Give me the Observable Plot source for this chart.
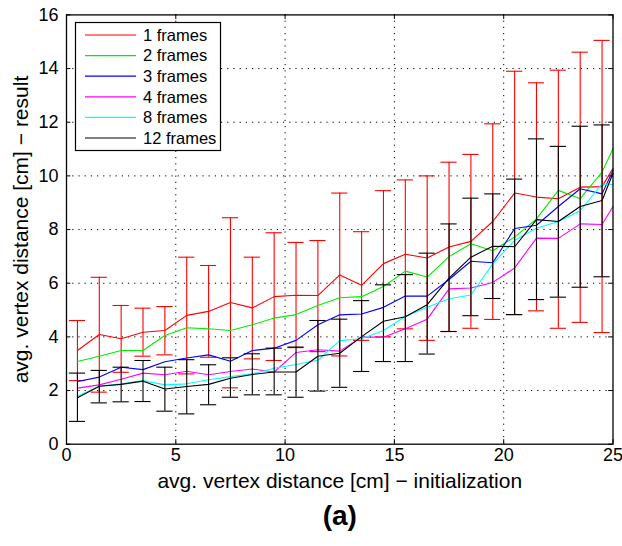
<!DOCTYPE html>
<html>
<head>
<meta charset="utf-8">
<script src="https://cdn.jsdelivr.net/npm/d3@7"></script>
<script src="https://cdn.jsdelivr.net/npm/@observablehq/plot@0.6"></script>
<style>
  html, body { margin: 0; padding: 0; background: #fff; }
  #chart { width: 622px; height: 546px; }
</style>
</head>
<body>
<div id="chart"></div>
<script>
// ---- data ----
const xs = [0.5, 1.5, 2.5, 3.5, 4.5, 5.5, 6.5, 7.5, 8.5, 9.5, 10.5, 11.5, 12.5,
            13.5, 14.5, 15.5, 16.5, 17.5, 18.5, 19.5, 20.5, 21.5, 22.5, 23.5, 24.5, 25];

const seriesNames = ["1 frames", "2 frames", "3 frames", "4 frames", "8 frames", "12 frames"];
const seriesColors = ["#ff0000", "#00ee00", "#0000ff", "#ff00ff", "#00ffff", "#000000"];

const frames1  = [3.49, 4.09, 3.93, 4.17, 4.24, 4.80, 4.95, 5.28, 5.08, 5.50, 5.55, 5.54, 6.31, 5.92, 6.73, 7.08, 6.94, 7.35, 7.56, 8.30, 9.36, 9.21, 9.15, 9.58, 9.60, 10.28];
const frames2  = [3.08, 3.28, 3.49, 3.49, 4.05, 4.34, 4.30, 4.24, 4.45, 4.70, 4.83, 5.17, 5.46, 5.50, 5.88, 6.45, 6.23, 6.99, 7.47, 7.21, 7.72, 8.40, 9.46, 9.15, 10.14, 11.02];
const frames3  = [2.34, 2.50, 2.87, 2.78, 3.07, 3.21, 3.33, 3.09, 3.49, 3.58, 3.87, 4.45, 4.82, 4.85, 5.10, 5.52, 5.52, 6.14, 6.82, 6.76, 8.04, 8.16, 8.86, 9.52, 9.33, 10.20];
const frames4  = [2.09, 2.21, 2.42, 2.65, 2.59, 2.72, 2.59, 2.71, 2.80, 2.69, 3.42, 3.52, 3.47, 3.99, 3.99, 4.30, 4.66, 5.79, 5.82, 6.03, 6.57, 7.68, 7.67, 8.21, 8.19, 8.86];
const frames8  = [1.79, 2.16, 2.25, 2.37, 2.21, 2.25, 2.40, 2.52, 2.62, 2.83, 2.97, 3.13, 3.86, 3.93, 4.24, 4.76, 5.10, 5.42, 5.56, 6.72, 7.60, 8.05, 8.30, 8.70, 9.70, 9.68];
const frames12 = [1.73, 2.16, 2.23, 2.35, 2.06, 2.15, 2.23, 2.46, 2.60, 2.69, 2.69, 3.28, 3.39, 4.01, 4.58, 4.75, 5.20, 6.19, 6.97, 7.38, 7.36, 8.37, 8.30, 8.86, 9.08, 10.10];

// error bars (upper / lower ends) for 1 frames and 12 frames, at xs[0..24]
const frames1Hi  = [4.61, 6.22, 5.17, 5.07, 5.13, 6.97, 6.66, 8.44, 6.97, 7.88, 7.52, 7.59, 9.36, 7.92, 9.45, 9.85, 10.00, 10.51, 10.80, 11.94, 13.90, 13.47, 13.94, 14.61, 15.05];
const frames1Lo  = [2.37, 1.94, 2.68, 3.28, 3.33, 2.62, 3.24, 2.10, 3.18, 3.12, 3.60, 3.45, 3.29, 3.87, 4.00, 4.30, 3.87, 4.20, 4.32, 4.65, 4.83, 4.97, 4.32, 4.54, 4.16];
const frames12Hi = [2.65, 2.75, 2.87, 3.12, 2.87, 3.15, 2.96, 3.22, 3.37, 3.58, 3.62, 4.61, 4.66, 5.35, 5.94, 6.32, 7.12, 8.21, 9.17, 9.33, 9.88, 11.38, 11.10, 11.85, 11.90];
const frames12Lo = [0.85, 1.54, 1.58, 1.59, 1.23, 1.13, 1.47, 1.75, 1.84, 1.84, 1.75, 1.98, 2.12, 2.71, 3.08, 3.08, 3.36, 4.20, 4.79, 5.43, 4.83, 5.39, 5.48, 5.85, 6.24];

const xTicks = [0, 5, 10, 15, 20, 25];
const yTicks = [0, 2, 4, 6, 8, 10, 12, 14, 16];
const xLabel = "avg. vertex distance [cm] \u2212 initialization";
const yLabel = "avg. vertex distance [cm] \u2212 result";
const panelLabel = "(a)";

// ---- build tables ----
const allSeries = [frames1, frames2, frames3, frames4, frames8, frames12];
const lineTables = allSeries.map((vals, si) => vals.map((v, i) => ({x: xs[i], y: v, s: seriesNames[si]})));
const errTable = (hi, lo) => hi.map((h, i) => ({x: xs[i], hi: h, lo: lo[i]}));
const err1 = errTable(frames1Hi, frames1Lo);
const err12 = errTable(frames12Hi, frames12Lo);

const capHalf = 0.37; // half width of error bar caps, in x units
const errMarks = (tbl, color) => [
  Plot.ruleX(tbl, {x: "x", y1: "lo", y2: "hi", stroke: color, strokeWidth: 1.1}),
  Plot.ruleY(tbl, {y: "hi", x1: d => d.x - capHalf, x2: d => d.x + capHalf, stroke: color, strokeWidth: 1.1}),
  Plot.ruleY(tbl, {y: "lo", x1: d => d.x - capHalf, x2: d => d.x + capHalf, stroke: color, strokeWidth: 1.1})
];

const gridX = xTicks.filter(t => t > 0 && t < 25);
const gridY = yTicks.filter(t => t > 0 && t < 16);

const marks = [
  Plot.ruleX(gridX, {x: d => d, stroke: "#000", strokeWidth: 1, strokeDasharray: "1.2,5"}),
  Plot.ruleY(gridY, {y: d => d, stroke: "#000", strokeWidth: 1, strokeDasharray: "1.2,5"}),
  // inward ticks
  Plot.ruleX(xTicks, {x: d => d, y1: 0, y2: 0.17, stroke: "#000"}),
  Plot.ruleX(xTicks, {x: d => d, y1: 16, y2: 15.83, stroke: "#000"}),
  Plot.ruleY(yTicks, {y: d => d, x1: 0, x2: 0.2, stroke: "#000"}),
  Plot.ruleY(yTicks, {y: d => d, x1: 25, x2: 24.8, stroke: "#000"}),
];
lineTables.forEach((tbl, si) => {
  marks.push(Plot.line(tbl, {x: "x", y: "y", stroke: seriesColors[si], strokeWidth: 1.1}));
  if (si === 0) marks.push(...errMarks(err1, seriesColors[0]));
  if (si === 5) marks.push(...errMarks(err12, seriesColors[5]));
});
marks.push(
  Plot.frame({stroke: "#000", strokeWidth: 1.3}),
  Plot.axisX({ticks: xTicks, tickSize: 0, tickPadding: 4, label: null, fontSize: 18}),
  Plot.axisY({ticks: yTicks, tickSize: 0, tickPadding: 8, label: null, fontSize: 18}),
  Plot.text([xLabel], {frameAnchor: "bottom", dy: 44, text: d => d, fontSize: 21, fill: "#000", textAnchor: "middle"}),
  Plot.text([yLabel], {frameAnchor: "left", dx: -45, rotate: -90, text: d => d, fontSize: 21, fill: "#000", textAnchor: "middle"}),
  Plot.text([panelLabel], {frameAnchor: "bottom", dy: 81, text: d => d, fontSize: 28, fontWeight: "bold", fill: "#000", textAnchor: "middle"})
);

const chart = Plot.plot({
  width: 622,
  height: 546,
  marginLeft: 66,
  marginRight: 9.5,
  marginTop: 14.4,
  marginBottom: 102.3,
  style: {fontFamily: "'Liberation Sans', Arial, Helvetica, sans-serif", fontSize: "18px", color: "#000", background: "#fff"},
  x: {domain: [0, 25]},
  y: {domain: [0, 16]},
  marks
});

// ---- legend (drawn inside the plot area, upper left) ----
const svg = d3.select(chart);
const lg = svg.append("g")
  .attr("font-family", "'Liberation Sans', Arial, Helvetica, sans-serif")
  .attr("font-size", 16.5)
  .attr("text-anchor", "start");
lg.append("rect").attr("x", 75.5).attr("y", 22.5).attr("width", 145).attr("height", 128)
  .attr("fill", "#fff").attr("stroke", "#000").attr("stroke-width", 1.2);
seriesNames.forEach((name, i) => {
  const cy = 35 + i * 20.6;
  lg.append("line").attr("x1", 85).attr("x2", 136).attr("y1", cy).attr("y2", cy)
    .attr("stroke", seriesColors[i]).attr("stroke-width", 1.2);
  lg.append("text").attr("x", 143).attr("y", cy).attr("dy", "0.35em")
    .attr("text-anchor", "start").attr("fill", "#000").text(name);
});

document.getElementById("chart").appendChild(chart);
</script>
</body>
</html>
